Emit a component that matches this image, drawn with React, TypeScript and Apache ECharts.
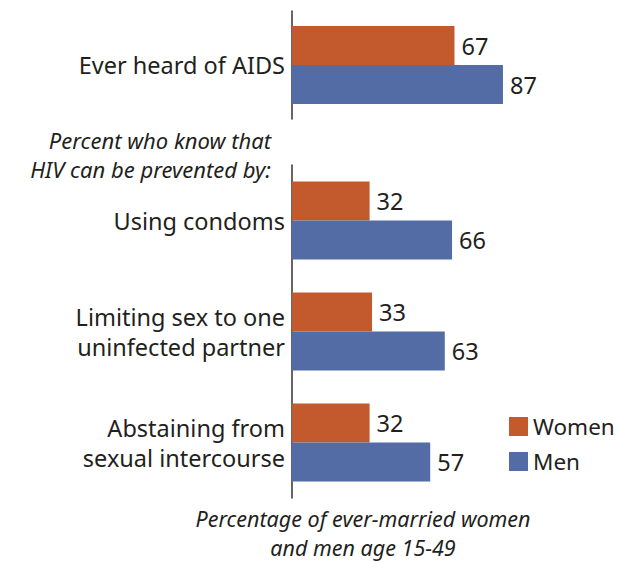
import React, { useEffect, useRef } from "react";
import * as echarts from "echarts";

const topCategories = ["Ever heard of AIDS"];
const preventCategories = [
  "Using condoms",
  "Limiting sex to one\nuninfected partner",
  "Abstaining from\nsexual intercourse",
];
const topWomen = [67];
const topMen = [87];
const preventWomen = [32, 33, 32];
const preventMen = [66, 63, 57];
const legendNames = ["Women", "Men"];
const headingLines = ["Percent who know that", "HIV can be prevented by:"];
const captionLines = ["Percentage of ever-married women", "and men age 15-49"];

const WOMEN = "#C25A2E";
const MEN = "#536CA5";
const TEXT = "#231F20";
const FONT = "'Noto Sans', sans-serif";

export default function App() {
  const ref = useRef<HTMLDivElement>(null);
  useEffect(() => {
    document.body.style.margin = "0";
    const chart = echarts.init(ref.current!, null, { renderer: "svg" });
    const label = {
      show: true,
      position: "right",
      distance: 7,
      fontSize: 23.5,
      color: TEXT,
      fontFamily: FONT,
    };
    const yAxisBase = {
      type: "category",
      axisLine: { show: true, lineStyle: { color: "#333", width: 1.5 } },
      axisTick: { show: false },
      axisLabel: {
        fontSize: 23.5,
        lineHeight: 30,
        color: TEXT,
        fontFamily: FONT,
        margin: 7,
        align: "right",
      },
    };
    const pRev = preventCategories.slice().reverse();
    const pwRev = preventWomen.slice().reverse();
    const pmRev = preventMen.slice().reverse();
    const bar = (name: string, idx: number, data: number[], color: string) => ({
      name,
      type: "bar",
      xAxisIndex: idx,
      yAxisIndex: idx,
      data,
      barWidth: 39,
      barGap: "0%",
      itemStyle: { color },
      label,
    });
    const italic = (text: string, x: number, y: number, size: number, align: string) => ({
      type: "text",
      x,
      y,
      style: {
        text,
        fontSize: size,
        fontStyle: "italic",
        fontFamily: FONT,
        fill: TEXT,
        align,
        verticalAlign: "middle",
      },
    });
    chart.setOption({
      animation: false,
      textStyle: { fontFamily: FONT },
      grid: [
        { left: 292, top: 11, width: 242.5, height: 108 },
        { left: 292, top: 165, width: 242.5, height: 333 },
      ],
      xAxis: [
        { type: "value", min: 0, max: 100, show: false, gridIndex: 0 },
        { type: "value", min: 0, max: 100, show: false, gridIndex: 1 },
      ],
      yAxis: [
        { ...yAxisBase, gridIndex: 0, data: topCategories },
        { ...yAxisBase, gridIndex: 1, data: pRev },
      ],
      legend: {
        orient: "vertical",
        left: 504,
        top: 410,
        itemWidth: 19,
        itemHeight: 19,
        itemGap: 12,
        icon: "rect",
        data: legendNames,
        textStyle: { fontSize: 22.5, color: TEXT, fontFamily: FONT },
      },
      series: [
        bar("Women", 0, topWomen, WOMEN),
        bar("Men", 0, topMen, MEN),
        bar("Women", 1, pwRev, WOMEN),
        bar("Men", 1, pmRev, MEN),
      ],
      graphic: [
        italic(headingLines[0], 271, 140, 22, "right"),
        italic(headingLines[1], 271, 169, 22, "right"),
        italic(captionLines[0], 363, 518, 21.5, "center"),
        italic(captionLines[1], 363, 547, 21.5, "center"),
      ],
    });
    return () => chart.dispose();
  }, []);
  return <div ref={ref} style={{ width: 617, height: 561 }} />;
}
